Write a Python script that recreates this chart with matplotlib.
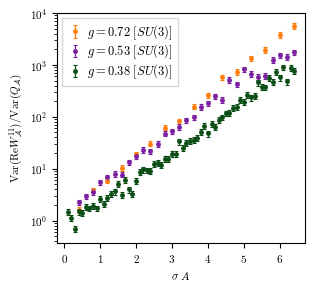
import numpy as np
import matplotlib
matplotlib.use('Agg')
import matplotlib.pyplot as plt

plt.rcParams['font.family'] = 'serif'
plt.rcParams['font.serif'] = ['cmr10', 'DejaVu Serif']
plt.rcParams['mathtext.fontset'] = 'cm'
plt.rcParams['axes.formatter.use_mathtext'] = True
plt.rcParams['font.size'] = 8

# g = 0.72, every 0.4
A_072 = [0.4, 0.8, 1.2, 1.6, 2.0, 2.4, 2.8, 3.2, 3.6, 4.0, 4.4, 4.8, 5.2, 5.6, 6.0, 6.4]
v_072 = [1.6, 3.8, 5.9, 10.5, 19, 30.5, 62, 82, 158, 262, 576, 742, 1350, 1970, 3820, 5720]

# g = 0.53, every 0.2
A_053 = [0.4, 0.6, 0.8, 1.0, 1.2, 1.4, 1.6, 1.8, 2.0, 2.2, 2.4, 2.6, 2.8, 3.0, 3.2,
         3.4, 3.6, 3.8, 4.0, 4.2, 4.4, 4.6, 4.8, 5.0, 5.2, 5.4, 5.6, 5.8, 6.0, 6.2, 6.4]
v_053 = [2.26, 2.95, 3.59, 5.5, 6.85, 8.0, 7.7, 13.4, 17.3, 23.1, 21.9, 30.3, 47.5, 52.7, 63.8,
         85, 98, 156, 181, 248, 214, 516, 420, 833, 670, 590, 620, 1260, 1550, 1440, 1750]

# g = 0.38, every 0.1
A_038 = [0.1, 0.2, 0.3, 0.4, 0.5, 0.6, 0.7, 0.8, 0.9, 1.0, 1.1, 1.2, 1.3, 1.4, 1.5, 1.6,
         1.7, 1.8, 1.9, 2.0, 2.1, 2.2, 2.3, 2.4, 2.5, 2.6, 2.7, 2.8, 2.9, 3.0, 3.1, 3.2,
         3.3, 3.4, 3.5, 3.6, 3.7, 3.8, 3.9, 4.0, 4.1, 4.2, 4.3, 4.4, 4.5, 4.6, 4.7, 4.8,
         4.9, 5.0, 5.1, 5.2, 5.3, 5.4, 5.5, 5.6, 5.7, 5.8, 5.9, 6.0, 6.1, 6.2, 6.3, 6.4]
v_038 = [1.47, 1.14, 0.69, 1.5, 1.41, 1.84, 1.73, 1.95, 1.73, 2.63, 2.10, 2.70, 3.33, 3.64, 5.1, 3.09,
         6.0, 3.98, 3.23, 5.8, 8.7, 9.7, 9.3, 9.2, 12.2, 13.1, 11.7, 15.6, 15.6, 19.2, 19.2, 33.5,
         25.3, 31.8, 34.5, 36, 39.5, 50.5, 66.7, 47.8, 72, 65, 88, 98, 117, 121, 147, 156,
         212, 197, 263, 236, 253, 460, 380, 370, 560, 473, 742, 576, 900, 480, 886, 765]

labels = [r'$g = 0.72\ [SU(3)]$', r'$g = 0.53\ [SU(3)]$', r'$g = 0.38\ [SU(3)]$']
colors = ['#ff7f0e', '#7b1fa2', '#0b4d14']
rel_err = [0.12, 0.12, 0.13]

fig = plt.figure(figsize=(3.15, 2.9), dpi=100)
ax = fig.add_axes([0.181, 0.162, 0.787, 0.793])

for A, v, lab, c, e in zip([A_072, A_053, A_038], [v_072, v_053, v_038], labels, colors, rel_err):
    v = np.array(v)
    ax.errorbar(A, v, yerr=e * v, fmt='o', ms=2.5, color=c, ecolor=c,
                elinewidth=0.9, capsize=1.5, capthick=0.8, label=lab)

ax.set_yscale('log')
ax.set_ylim(0.37, 1e4)
ax.set_xlim(-0.2, 6.7)
ax.set_xticks([0, 1, 2, 3, 4, 5, 6])
ax.set_xlabel(r'$\sigma\;A$')
ax.set_ylabel(r'$\mathrm{Var}(\mathrm{Re}W_{\mathcal{A}}^{11})/\mathrm{Var}(Q_{\mathcal{A}})$')
ax.legend(loc='upper left', fontsize=9, fancybox=False, edgecolor='#cccccc',
          handletextpad=0.4, handlelength=1.2, labelspacing=0.1, borderaxespad=0.4)

fig.savefig('out.png', dpi=100)
